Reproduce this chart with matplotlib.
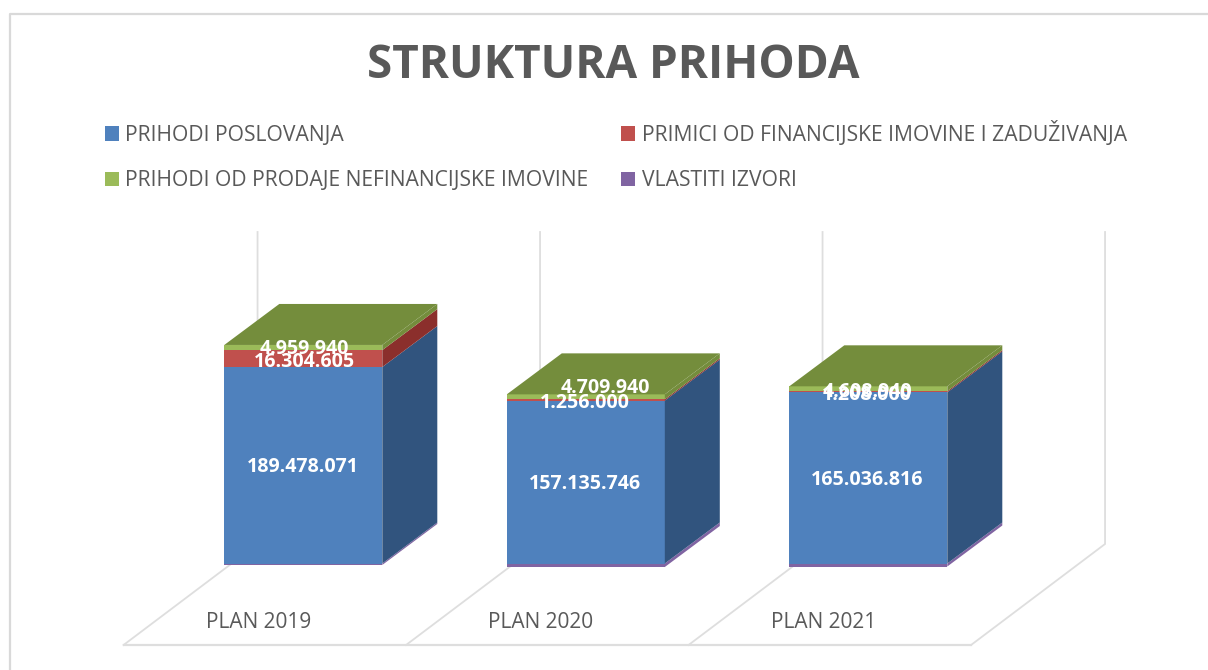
import matplotlib
matplotlib.use("Agg")
import matplotlib.pyplot as plt
from matplotlib.patches import Polygon, Patch
import numpy as np

categories = ["PLAN 2019", "PLAN 2020", "PLAN 2021"]
series_names = ["PRIHODI POSLOVANJA", "PRIMICI OD FINANCIJSKE IMOVINE I ZADUŽIVANJA",
                "PRIHODI OD PRODAJE NEFINANCIJSKE IMOVINE", "VLASTITI IZVORI"]
prihodi_poslovanja = [189478071, 157135746, 165036816]
primici = [16304605, 1256000, 1208000]
prodaja = [4959940, 4709940, 4608940]
vlastiti = [-1400000, -3400000, -2900000]   # unlabelled, estimated from the thin sliver

front_colors = ["#4F81BD", "#C0504D", "#9BBB59", "#8064A2"]
side_colors = ["#31547E", "#8B2F2C", "#748D3C", "#5B4677"]
TOP = "#748D3C"
TXT = "#595959"
GRID = "#DEDEDE"

W, H = 1208, 670
X0, XS = 303.3, 282.5        # pixels of category 0, pixels per category
Y0, YS = 563.5, 1.037e-6     # pixels of value 0, pixels per unit

fig = plt.figure(figsize=(W / 100, H / 100), dpi=100, facecolor="white")
ax = fig.add_axes([0, 0, 1, 1])
ax.set_xlim((0 - X0) / XS, (W - X0) / XS)
ax.set_ylim((Y0 - H) / YS, Y0 / YS)
ax.axis("off")

dx_px = lambda p: p / XS
dy_px = lambda p: p / YS
fmt = lambda v: f"{v:,}".replace(",", ".")

# frame of the chart: open on the right and at the bottom
fig.add_artist(plt.Line2D([9.5 / W, 9.5 / W, 1], [0, 1 - 14 / H, 1 - 14 / H],
                          color="#D9D9D9", lw=1.6, transform=fig.transFigure))

# floor and back gridlines
bw = 158 / XS
floor_front = (Y0 - 645) / YS
floor_back = (Y0 - 544) / YS
wall_top = (Y0 - 232) / YS
floor_dx = dx_px(134)
edges = [i - 0.5 - dx_px(38.5) for i in range(4)]
for e in edges:
    ax.plot([e, e + floor_dx, e + floor_dx], [floor_front, floor_back, wall_top],
            color=GRID, lw=1.3, zorder=1, solid_joinstyle="miter")
ax.plot([edges[0], edges[-1]], [floor_front, floor_front], color=GRID, lw=1.6, zorder=1)

# 3D bars
ddx, ddy = dx_px(55), dy_px(41)
stack = [prihodi_poslovanja, primici, prodaja]
for i in range(len(categories)):
    l, r = i - bw / 2, i + bw / 2
    v = vlastiti[i]
    ax.bar(i, v, bw, color=front_colors[3], zorder=3, lw=0)
    ax.add_patch(Polygon([(r, 0), (r + ddx, ddy), (r + ddx, ddy + v), (r, v)],
                         closed=True, fc=front_colors[3], lw=0, zorder=2))
    base = 0
    for s, ser in enumerate(stack):
        val = ser[i]
        ax.bar(i, val, bw, bottom=base, color=front_colors[s], zorder=3, lw=0)
        ax.add_patch(Polygon([(r, base), (r + ddx, base + ddy), (r + ddx, base + val + ddy), (r, base + val)],
                             closed=True, fc=side_colors[s], lw=0, zorder=3))
        base += val
    ax.add_patch(Polygon([(l, base), (r, base), (r + ddx, base + ddy), (l + ddx, base + ddy)],
                         closed=True, fc=TOP, lw=0, zorder=3))

# data labels: (category, series) -> (x offset px, y px)
label_pos = {
    (0, 0): (0, 467), (0, 1): (1, 362), (0, 2): (1, 349),
    (1, 0): (-1, 484), (1, 1): (-1, 403), (1, 2): (20, 388),
    (2, 0): (-1, 480), (2, 1): (-1, 395), (2, 2): (-1, 392),
}
for (i, s), (off, py) in label_pos.items():
    ax.text(i + dx_px(off), (Y0 - py) / YS, fmt(stack[s][i]), color="white", fontsize=14.1,
            fontweight="bold", family="Open Sans", ha="center", va="center", zorder=5)

# category labels
for i, c in enumerate(categories):
    ax.text(i + dx_px(-45), (Y0 - 622) / YS, c, color=TXT, fontsize=15, family="Open Sans",
            ha="center", va="center", zorder=5)

fig.text(613 / W, 1 - 66 / H, "STRUKTURA PRIHODA", color=TXT, fontsize=33, fontweight="bold",
         family="Open Sans", ha="center", va="center")

order = [0, 2, 1, 3]
handles = [Patch(fc=front_colors[k], lw=0, label=series_names[k]) for k in order]
leg = fig.legend(handles=handles, ncols=2, frameon=False, loc="upper left",
                 bbox_to_anchor=(105 / W, 1 - 121 / H),
                 prop={"family": "Open Sans", "size": 15.25}, labelcolor=TXT,
                 handlelength=0.67, handleheight=0.67, handletextpad=0.29,
                 labelspacing=1.14, columnspacing=1.55, borderpad=0, borderaxespad=0)

fig.savefig("out.png", dpi=100)
